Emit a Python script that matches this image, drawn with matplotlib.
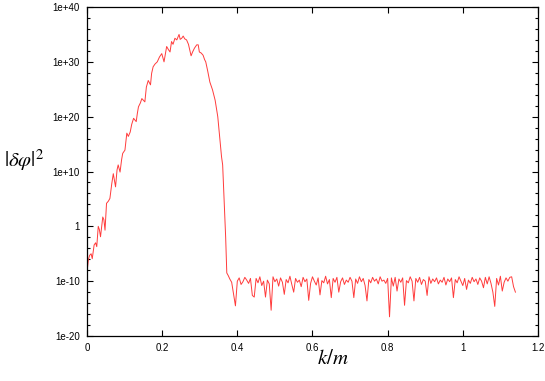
import numpy as np
import matplotlib
matplotlib.use("Agg")
import matplotlib.pyplot as plt
from matplotlib.ticker import FixedLocator, NullLocator, NullFormatter

plt.rcParams["font.family"] = ["Liberation Sans", "DejaVu Sans"]
plt.rcParams["mathtext.fontset"] = "stix"

# growth part: k/m and log10 |dphi|^2
k_rise = [0.000, 0.004, 0.007, 0.011, 0.014, 0.019, 0.023, 0.026, 0.030, 0.033,
          0.036, 0.042, 0.045, 0.048, 0.052, 0.057, 0.061, 0.066, 0.070, 0.076,
          0.080, 0.083, 0.088, 0.092, 0.095, 0.101, 0.104, 0.106, 0.110, 0.115,
          0.119, 0.124, 0.131, 0.134, 0.137, 0.142, 0.146, 0.154, 0.158, 0.163,
          0.169, 0.172, 0.176, 0.181, 0.187, 0.193, 0.199, 0.205, 0.212, 0.217,
          0.221, 0.225, 0.229, 0.234, 0.239, 0.245, 0.248, 0.252, 0.256, 0.260,
          0.265, 0.270, 0.277, 0.281, 0.286, 0.292, 0.296, 0.299, 0.304, 0.309,
          0.313, 0.316, 0.321, 0.327, 0.334, 0.341, 0.348, 0.354, 0.358, 0.361,
          0.365, 0.369, 0.372, 0.376]
log_rise = [-8.3, -6.0, -5.3, -5.0, -5.9, -3.4, -3.0, -3.7, 0.0, -0.6,
            -1.9, 1.7, 1.2, -0.7, 4.2, 4.6, 5.1, 7.8, 9.6, 7.2,
            10.3, 11.2, 9.9, 12.1, 13.3, 13.9, 15.7, 17.0, 16.4, 17.2,
            18.6, 19.7, 19.1, 20.6, 21.8, 22.5, 23.3, 22.7, 25.4, 26.6,
            25.8, 27.9, 29.1, 29.6, 30.0, 30.9, 31.5, 30.0, 32.8, 32.2,
            31.8, 33.7, 33.2, 34.3, 34.0, 35.0, 34.1, 34.3, 34.7, 34.2,
            34.0, 33.2, 31.1, 31.8, 32.5, 33.1, 33.1, 31.8, 31.6, 31.2,
            30.4, 30.0, 28.4, 26.3, 24.9, 23.0, 20.0, 15.7, 12.7, 11.2,
            4.8, -2.0, -8.5, -9.0]

# flat tail after the drop, sampled every 0.005 from k/m = 0.380
k_tail_start = 0.380
k_tail_end = 1.140
log_tail = [-9.6, -10.2, -12.3, -14.5, -10.0, -9.4, -10.6, -10.1, -9.3, -9.8,
            -10.4, -9.5, -12.6, -12.9, -9.5, -10.3, -9.2, -10.8, -10.0, -12.9,
            -9.8, -10.5, -15.3, -9.2, -10.1, -9.6, -10.9, -9.4, -10.2, -12.4,
            -9.7, -10.3, -9.1, -10.6, -12.0, -9.5, -10.2, -9.8, -11.0, -9.3,
            -10.1, -9.6, -13.5, -10.4, -9.2, -10.0, -10.7, -9.4, -12.5, -9.9,
            -10.3, -9.1, -10.5, -9.7, -13.0, -9.5, -10.2, -9.3, -12.0, -10.1,
            -9.4, -10.6, -9.8, -10.2, -9.3, -10.0, -13.0, -9.6, -10.4, -9.2,
            -10.1, -9.5, -10.8, -13.6, -9.7, -10.3, -9.3, -10.0, -9.6, -10.5,
            -9.2, -10.0, -9.8, -10.4, -9.5, -16.5, -9.4, -10.9, -9.3, -11.8,
            -9.6, -10.2, -9.4, -14.4, -9.9, -10.3, -9.2, -10.0, -13.6, -9.5,
            -10.2, -9.3, -10.6, -9.7, -10.0, -12.6, -9.2, -10.4, -9.6, -10.1,
            -9.4, -10.5, -9.8, -10.2, -9.3, -10.7, -9.6, -10.1, -9.4, -13.0,
            -9.7, -10.3, -9.2, -10.0, -10.8, -9.5, -11.5, -9.8, -10.4, -9.3,
            -10.1, -9.6, -10.6, -9.4, -10.0, -11.2, -9.3, -10.5, -9.2, -10.4,
            -12.0, -14.6, -9.5, -10.7, -9.1, -11.8, -10.2, -9.4, -10.0, -9.3,
            -9.2, -11.0, -12.0]

y_ticks = [1e-20, 1e-10, 1, 1e10, 1e20, 1e30, 1e40]
y_tick_labels = ["1e-20", "1e-10", "1", "1e+10", "1e+20", "1e+30", "1e+40"]
x_ticks = [0, 0.2, 0.4, 0.6, 0.8, 1, 1.2]
x_tick_labels = ["0", "0.2", "0.4", "0.6", "0.8", "1", "1.2"]

k_tail = np.linspace(k_tail_start, k_tail_end, len(log_tail))
k_all = np.concatenate([k_rise, k_tail])
power = 10.0 ** np.concatenate([log_rise, log_tail])

fig = plt.figure(figsize=(5.45, 3.81), dpi=100)
ax = fig.add_axes([0.1596, 0.1181, 0.8275, 0.8635])

ax.plot(k_all, power, color="#ff3b3b", lw=0.7)

ax.set_yscale("log")
ax.set_xlim(0, 1.2)
ax.set_ylim(1e-20, 1e40)

ax.set_xticks(x_ticks)
ax.set_xticklabels(x_tick_labels)
ax.xaxis.set_minor_locator(NullLocator())
ax.set_yticks(y_ticks)
ax.set_yticklabels(y_tick_labels)
minor_y = [10.0 ** e for e in range(-20, 41, 2) if e % 10 != 0]
ax.yaxis.set_minor_locator(FixedLocator(minor_y))
ax.yaxis.set_minor_formatter(NullFormatter())

ax.tick_params(which="both", direction="in", top=True, right=True,
               labelsize=7, colors="black", pad=5)
ax.tick_params(which="major", length=4.5, width=0.8)
ax.tick_params(which="minor", length=2.5, width=0.8)
for s in ax.spines.values():
    s.set_linewidth(0.9)

fig.text(333 / 545, 1 - 358 / 381, r"$k/m$", fontsize=15,
         ha="center", va="center")
fig.text(24 / 545, 1 - 160 / 381, r"$|\delta\varphi|^2$", fontsize=15,
         ha="center", va="center")

fig.savefig("out.png", dpi=100)
